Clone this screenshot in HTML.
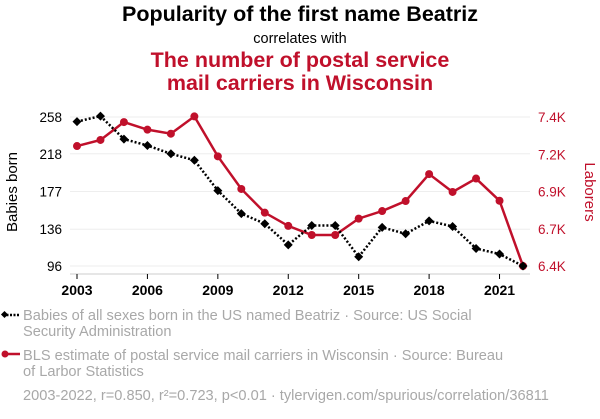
<!DOCTYPE html>
<html><head><meta charset="utf-8"><style>
body{margin:0;background:#fff;width:600px;height:414px;overflow:hidden;font-family:"Liberation Sans",sans-serif}
</style></head><body>
<svg id="c" width="600" height="414" xmlns="http://www.w3.org/2000/svg" font-family="Liberation Sans, sans-serif">
<text x="300" y="21" text-anchor="middle" font-size="21.5" font-weight="bold" fill="#000">Popularity of the first name Beatriz</text>
<text x="300" y="43" text-anchor="middle" font-size="14.5" fill="#000">correlates with</text>
<text x="300" y="67" text-anchor="middle" font-size="21.5" font-weight="bold" fill="#c0102b">The number of postal service</text>
<text x="300" y="90" text-anchor="middle" font-size="21.5" font-weight="bold" fill="#c0102b">mail carriers in Wisconsin</text>
<text transform="translate(17,192) rotate(-90)" text-anchor="middle" font-size="15" fill="#000">Babies born</text>
<text transform="translate(585,192) rotate(90)" text-anchor="middle" font-size="15" fill="#c0102b">Laborers</text>
<g id="grid"></g><g id="axes"></g><g id="marks"></g>
<g>
<g>
<line x1="3" y1="315" x2="20" y2="315" stroke="#000" stroke-width="2.5" stroke-dasharray="2,1.5"/>
<rect x="2" y="312" width="5" height="5" transform="rotate(45 4.5 314.5)" fill="#000"/>
<text x="23" y="320" font-size="14.6" fill="#a8a8a8">Babies of all sexes born in the US named Beatriz · Source: US Social</text>
<text x="23" y="336" font-size="14.6" fill="#a8a8a8">Security Administration</text></g>
<g>
<line x1="3" y1="354" x2="20" y2="354" stroke="#c0102b" stroke-width="2.5"/>
<circle cx="5" cy="354" r="3.5" fill="#c0102b"/>
<text x="23" y="360" font-size="14.6" fill="#a8a8a8">BLS estimate of postal service mail carriers in Wisconsin · Source: Bureau</text>
<text x="23" y="376" font-size="14.6" fill="#a8a8a8">of Larbor Statistics</text></g>
</g>
<text x="23" y="400" font-size="14.6" fill="#a8a8a8">2003-2022, r=0.850, r²=0.723, p&lt;0.01 · tylervigen.com/spurious/correlation/36811</text>
</svg>
<script>
const years=[2003,2004,2005,2006,2007,2008,2009,2010,2011,2012,2013,2014,2015,2016,2017,2018,2019,2020,2021,2022];
const babies=[253,259,234,227,218,211,178,153,142,119,140,140,106,138,131,145,139,115,109,96];
const laborers=[7205,7246,7366,7315,7288,7404,7136,6917,6758,6669,6608,6608,6718,6769,6836,7017,6897,6987,6838,6400];
const leftTicks=[96,136,177,218,258];
const rightTickVals=[6400,6650,6900,7150,7400];
const rightTickLabels=["6.4K","6.7K","6.9K","7.2K","7.4K"];
const xTickYears=[2003,2006,2009,2012,2015,2018,2021];
const NS="http://www.w3.org/2000/svg";
const x=v=>77+(v-2003)*(523-77)/19;
const yL=v=>266-(v-96)*(149/(258-96));
const yR=v=>266-(v-6400)*(149/1000);
function mk(t,a,p){const e=document.createElementNS(NS,t);for(const k in a)e.setAttribute(k,a[k]);p.appendChild(e);return e;}
const grid=document.getElementById('grid'),axes=document.getElementById('axes'),marks=document.getElementById('marks');
leftTicks.forEach((v,i)=>{
 const g=mk('line',{x1:70,x2:530,y1:yL(v),y2:yL(v),stroke:'#eee','stroke-width':1},grid);
 
 
 const t=mk('text',{x:62,y:yL(v)+5,'text-anchor':'end','font-size':13.5,fill:'#000'},axes);t.textContent=v;
 
 
});
rightTickVals.forEach((v,i)=>{
 const t=mk('text',{x:538,y:yR(v)+5,'font-size':13.5,fill:'#c0102b'},axes);t.textContent=rightTickLabels[i];
 
 
});
const ax=mk('line',{x1:70,x2:530,y1:274,y2:274,stroke:'#ccc','stroke-width':1},axes);


xTickYears.forEach(v=>{
 mk('line',{x1:x(v),x2:x(v),y1:274,y2:279,stroke:'#000','stroke-width':1},axes);
 const t=mk('text',{x:x(v),y:295,'text-anchor':'middle','font-size':14,'font-weight':'bold',fill:'#000'},axes);t.textContent=v;
 
 
});
const rp=mk('polyline',{points:years.map((yr,i)=>x(yr)+','+yR(laborers[i])).join(' '),fill:'none',stroke:'#c0102b','stroke-width':2.5},marks);


years.forEach((yr,i)=>{const c=mk('circle',{cx:x(yr),cy:yR(laborers[i]),r:4,fill:'#c0102b'},marks);
 
 });
const bp=mk('polyline',{points:years.map((yr,i)=>x(yr)+','+yL(babies[i])).join(' '),fill:'none',stroke:'#000','stroke-width':2.5,'stroke-dasharray':'2,2'},marks);


years.forEach((yr,i)=>{const X=x(yr),Y=yL(babies[i]);
 const d=mk('polygon',{points:`${X},${Y-4.5} ${X+4.5},${Y} ${X},${Y+4.5} ${X-4.5},${Y}`,fill:'#000'},marks);
 
 });
</script>
</body></html>
